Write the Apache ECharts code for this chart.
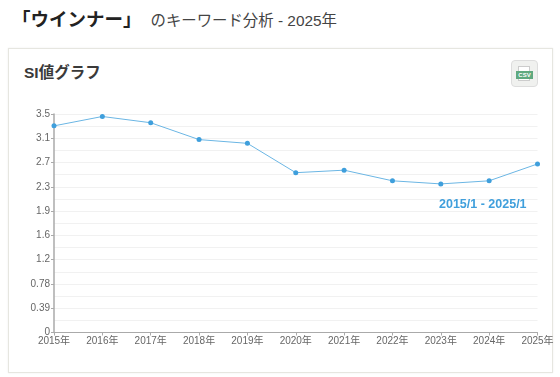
<!DOCTYPE html>
<html lang="ja">
<head>
<meta charset="utf-8" />
<title>SI値グラフ</title>
<style>
html,body{margin:0;padding:0;background:#fff;width:560px;height:377px;overflow:hidden}
body{font-family:"Liberation Sans","Noto Sans CJK JP",sans-serif;color:#333;position:relative}
.head{position:absolute;left:12px;top:6px;height:28px;line-height:28px;white-space:nowrap}
.head b{font-size:18.5px;color:#222}
.head span{font-size:15.4px;margin-left:9px;color:#444}
.card{position:absolute;left:8px;top:48px;width:545px;height:325px;box-sizing:border-box;border:1px solid #e6e6e0;box-shadow:0 0 2px #eee}
.card h3{position:absolute;left:15px;top:14px;margin:0;font-size:15.5px;line-height:20px;color:#3a3a3a}
#main{position:absolute;left:0;top:0;width:560px;height:377px}
.csv{position:absolute;left:511px;top:60px;width:27px;height:27px;box-sizing:border-box;border:1px solid #ddd;border-radius:4px;background:#f0f1ef}
.csv i{position:absolute;left:6px;top:5px;width:12px;height:15px;background:#fff;border:1px solid #ccc;box-sizing:border-box}
.csv em{position:absolute;left:4px;top:10px;width:17px;height:8px;background:#5fa97f;color:#fff;font:bold 6px/8px "Liberation Sans";text-align:center;font-style:normal}
</style>
</head>
<body>
<div class="head"><b>「ウインナー」</b><span>のキーワード分析 - 2025年</span></div>
<div class="card"><h3>SI値グラフ</h3></div>
<div id="main"></div>
<div class="csv"><i></i><em>CSV</em></div>
<script src="https://cdn.jsdelivr.net/npm/echarts@6/dist/echarts.min.js"></script>
<script>
var years = ['2015年','2016年','2017年','2018年','2019年','2020年','2021年','2022年','2023年','2024年','2025年'];
var siValues = [3.31,3.46,3.36,3.09,3.03,2.56,2.60,2.43,2.38,2.43,2.70];
var yLabels = ['0','0.39','0.78','1.2','1.6','1.9','2.3','2.7','3.1','3.5'];
var yMax = 3.5;
var rangeText = '2015/1 - 2025/1';

var myChart = echarts.init(document.getElementById('main'));
myChart.setOption({
	animation:false,
	textStyle:{fontFamily:'"Liberation Sans","Noto Sans CJK JP",sans-serif'},
	title:{
		text:rangeText,left:434,top:193,
		textStyle:{color:'#3f9fdc',fontSize:12.5,fontWeight:'bold'}
	},
	grid:{left:54,right:22.5,top:114,height:218.5},
	xAxis:{
		type:'category',data:years,boundaryGap:false,
		axisLine:{lineStyle:{color:'#aaa',width:1}},
		axisTick:{show:true,alignWithLabel:true,length:3,lineStyle:{color:'#aaa'}},
		axisLabel:{color:'#666',fontSize:10,margin:4,hideOverlap:false,interval:0,showMinLabel:true,showMaxLabel:true},
		splitLine:{show:false}
	},
	yAxis:{
		type:'value',min:0,max:yMax,interval:yMax/9,
		axisLine:{show:true,lineStyle:{color:'#aaa',width:1.5}},
		axisTick:{show:true,length:3,lineStyle:{color:'#aaa'}},
		axisLabel:{color:'#666',fontSize:10,margin:4,formatter:function(v,i){return yLabels[i]}},
		splitLine:{lineStyle:{color:'#f1f1f1'}},
		minorTick:{show:false,splitNumber:2},
		minorSplitLine:{show:true,lineStyle:{color:'#f1f1f1'}}
	},
	series:[{
		type:'line',data:siValues,
		symbol:'circle',symbolSize:5,
		lineStyle:{color:'#6bb6e4',width:1},
		itemStyle:{color:'#3f9fdc'}
	}]
});
</script>
</body>
</html>
